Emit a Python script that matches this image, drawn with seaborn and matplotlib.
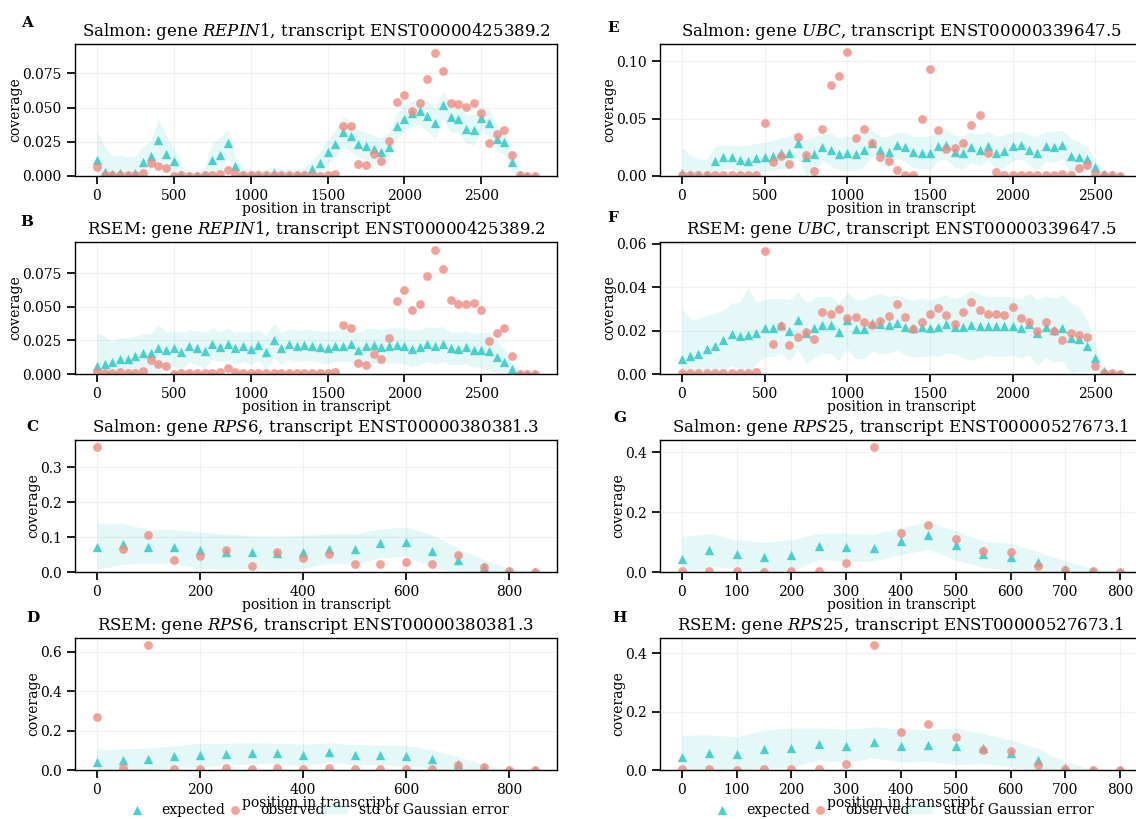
"""
Coverage profiles: expected vs observed read coverage along transcripts
(Salmon vs RSEM) for four genes, with the std band of the Gaussian error.
"""

import matplotlib
matplotlib.use("Agg")
import matplotlib.pyplot as plt
import seaborn as sns
import numpy as np

sns.set_theme(style="ticks", rc={
    "axes.grid": True,
    "grid.color": "#f0f0f0",
    "grid.linewidth": 0.8,
    "axes.edgecolor": "black",
    "axes.linewidth": 1.0,
    "text.color": "black",
    "axes.labelcolor": "black",
    "xtick.color": "black",
    "ytick.color": "black",
})
plt.rcParams["font.family"] = ["DejaVu Serif"]
plt.rcParams["mathtext.fontset"] = "dejavuserif"

EXP_COLOR = "mediumturquoise"
OBS_COLOR = "#f08a80"
BAND_COLOR = "mediumturquoise"

# positions in transcript (bin starts)
POS_REPIN1 = np.arange(0, 2900, 50)
POS_UBC = np.arange(0, 2700, 50)
POS_RPS6 = np.arange(0, 900, 50)
POS_RPS25 = np.arange(0, 850, 50)

# ---- REPIN1 ----
SALMON_REPIN1_EXP = [
    0.0115, 0.003, 0.0015, 0.002, 0.001, 0.0025, 0.010, 0.0147, 0.0264, 0.016,
    0.011, 0.0005, 0.0003, 0.0003, 0.0005, 0.012, 0.015, 0.0244, 0.007, 0.0005,
    0.0005, 0.0004, 0.0005, 0.002, 0.001, 0.001, 0.001, 0.001, 0.005, 0.0098,
    0.0173, 0.0235, 0.032, 0.029, 0.0237, 0.022, 0.0198, 0.0173, 0.0215, 0.0364,
    0.0418, 0.0457, 0.0474, 0.0437, 0.0386, 0.052, 0.0432, 0.0418, 0.0345, 0.0337,
    0.0425, 0.0386, 0.0274, 0.0247, 0.0105, 0.0005, 0.0002, 0.0001,
]
SALMON_REPIN1_OBS = [
    0.0064, 0.001, 0.0005, 0.001, 0.0005, 0.0005, 0.002, 0.0095, 0.0073, 0.0056,
    0.0003, 0.001, 0.0003, 0.0003, 0.0005, 0.0005, 0.0012, 0.0044, 0.0018, 0.0005,
    0.0005, 0.0004, 0.0005, 0.0006, 0.0005, 0.0008, 0.0005, 0.0004, 0.0005, 0.0003,
    0.0008, 0.0013, 0.0362, 0.0362, 0.0088, 0.0078, 0.016, 0.0112, 0.0259, 0.054,
    0.0594, 0.0477, 0.053, 0.0711, 0.0902, 0.077, 0.0533, 0.0523, 0.0501, 0.0533,
    0.0464, 0.0244, 0.0305, 0.0335, 0.0154, 0.0005, 0.0003, 0.0003,
]
SALMON_REPIN1_STD = [
    0.0225, 0.0185, 0.0135, 0.013, 0.013, 0.012, 0.0115, 0.011, 0.015, 0.014,
    0.009, 0.0065, 0.004, 0.004, 0.006, 0.012, 0.013, 0.0096, 0.007, 0.0055,
    0.0045, 0.0045, 0.0045, 0.0045, 0.0045, 0.0045, 0.0045, 0.005, 0.006, 0.008,
    0.0087, 0.0095, 0.011, 0.011, 0.010, 0.010, 0.010, 0.0107, 0.0105, 0.0096,
    0.0092, 0.0093, 0.0096, 0.0113, 0.0114, 0.010, 0.0108, 0.010, 0.0105, 0.011,
    0.0095, 0.0094, 0.0096, 0.0093, 0.0075, 0.0015, 0.0003, 0.0002,
]
RSEM_REPIN1_EXP = [
    0.0062, 0.0074, 0.0087, 0.011, 0.011, 0.0137, 0.0156, 0.0154, 0.019, 0.0176,
    0.019, 0.0166, 0.0209, 0.0196, 0.0174, 0.0223, 0.0204, 0.0221, 0.019, 0.0206,
    0.0189, 0.0216, 0.0161, 0.025, 0.019, 0.0223, 0.0209, 0.0216, 0.0211, 0.0204,
    0.0196, 0.0209, 0.0209, 0.0221, 0.0176, 0.0211, 0.0213, 0.0204, 0.0211, 0.0213,
    0.0209, 0.0189, 0.0201, 0.0221, 0.0209, 0.0223, 0.019, 0.0189, 0.0199, 0.0176,
    0.0179, 0.0171, 0.0129, 0.0092, 0.004, 0.0003, 0.0002, 0.0001,
]
RSEM_REPIN1_OBS = [
    0.0015, 0.001, 0.0005, 0.0012, 0.0005, 0.0005, 0.0022, 0.0102, 0.0075, 0.0062,
    0.0003, 0.001, 0.0005, 0.0005, 0.0005, 0.0005, 0.0012, 0.0042, 0.0018, 0.0005,
    0.0005, 0.0004, 0.0005, 0.0006, 0.0005, 0.0007, 0.0005, 0.0004, 0.0005, 0.0004,
    0.0008, 0.0012, 0.0365, 0.034, 0.008, 0.0065, 0.0149, 0.011, 0.0266, 0.0544,
    0.0621, 0.0474, 0.0519, 0.0725, 0.0919, 0.078, 0.0549, 0.0521, 0.0521, 0.0531,
    0.0479, 0.0246, 0.0303, 0.0343, 0.0132, 0.0002, 0.0002, 0.0002,
]
RSEM_REPIN1_STD = [
    0.024, 0.0206, 0.015, 0.016, 0.016, 0.0143, 0.0144, 0.0146, 0.018, 0.0134,
    0.013, 0.0144, 0.012, 0.0124, 0.0136, 0.0117, 0.0116, 0.0119, 0.012, 0.0114,
    0.012, 0.0114, 0.013, 0.013, 0.012, 0.011, 0.0115, 0.0115, 0.0115, 0.012,
    0.012, 0.0115, 0.012, 0.0125, 0.013, 0.0125, 0.013, 0.0125, 0.013, 0.013,
    0.0135, 0.0135, 0.013, 0.013, 0.0135, 0.013, 0.012, 0.012, 0.012, 0.0124,
    0.013, 0.014, 0.012, 0.009, 0.004, 0.001, 0.0002, 0.0001,
]

# ---- UBC ----
SALMON_UBC_EXP = [
    0.0023, 0.001, 0.001, 0.001, 0.013, 0.0166, 0.0166, 0.0143, 0.0134, 0.0157,
    0.0169, 0.0178, 0.0201, 0.0204, 0.0286, 0.0163, 0.019, 0.0254, 0.023, 0.0192,
    0.0201, 0.019, 0.0224, 0.0286, 0.0224, 0.021, 0.0268, 0.0254, 0.0207, 0.0204,
    0.0201, 0.026, 0.0274, 0.0213, 0.0204, 0.0251, 0.0227, 0.0265, 0.0204, 0.0216,
    0.026, 0.0268, 0.0227, 0.0198, 0.026, 0.0254, 0.0274, 0.0178, 0.0166, 0.0152,
    0.0079, 0.0017, 0.0005, 0.0003,
]
SALMON_UBC_OBS = [
    0.0005, 0.0005, 0.0005, 0.0005, 0.0005, 0.0005, 0.0005, 0.0005, 0.0005, 0.0008,
    0.0466, 0.012, 0.0175, 0.0105, 0.0344, 0.0184, 0.0041, 0.0408, 0.079, 0.0872,
    0.1082, 0.033, 0.0414, 0.0286, 0.0166, 0.0128, 0.0052, 0.0005, 0.0012, 0.0499,
    0.0933, 0.0399, 0.0236, 0.0245, 0.0289, 0.0443, 0.0531, 0.0204, 0.0032, 0.0005,
    0.0005, 0.0005, 0.0005, 0.0005, 0.0005, 0.0008, 0.0015, 0.0005, 0.007, 0.0099,
    0.0015, 0.0005, 0.0005, 0.0003,
]
SALMON_UBC_STD = [
    0.0225, 0.0174, 0.0136, 0.0136, 0.0127, 0.0105, 0.0102, 0.0119, 0.0131, 0.0129,
    0.0125, 0.0132, 0.0134, 0.014, 0.0122, 0.0157, 0.0154, 0.0116, 0.014, 0.0143,
    0.0149, 0.0145, 0.0146, 0.0111, 0.012, 0.0134, 0.0112, 0.0126, 0.0137, 0.014,
    0.0149, 0.013, 0.0126, 0.0137, 0.0146, 0.0129, 0.014, 0.0125, 0.014, 0.0144,
    0.0125, 0.012, 0.0133, 0.0146, 0.013, 0.0134, 0.0126, 0.0152, 0.0134, 0.0105,
    0.0061, 0.0013, 0.0002, 0.0001,
]
RSEM_UBC_EXP = [
    0.0068, 0.0085, 0.0094, 0.0117, 0.0131, 0.0156, 0.0183, 0.0177, 0.018, 0.0191,
    0.021, 0.0214, 0.0224, 0.020, 0.0247, 0.019, 0.0214, 0.0227, 0.0227, 0.0194,
    0.0247, 0.0207, 0.0207, 0.0234, 0.0231, 0.0228, 0.0237, 0.0219, 0.021, 0.0216,
    0.0214, 0.0216, 0.0231, 0.0219, 0.0217, 0.0225, 0.0222, 0.0222, 0.022, 0.022,
    0.022, 0.0211, 0.023, 0.019, 0.0219, 0.0202, 0.0214, 0.0168, 0.0163, 0.0131,
    0.0076, 0.0012, 0.0003, 0.0002,
]
RSEM_UBC_OBS = [
    0.0003, 0.0003, 0.0003, 0.0003, 0.0003, 0.0003, 0.0003, 0.0003, 0.0003, 0.0008,
    0.0569, 0.014, 0.0222, 0.0134, 0.017, 0.0196, 0.0163, 0.0284, 0.0276, 0.0298,
    0.0258, 0.0265, 0.0241, 0.0227, 0.0245, 0.0267, 0.0325, 0.0261, 0.0208, 0.0239,
    0.0279, 0.0304, 0.0271, 0.023, 0.0284, 0.0332, 0.0296, 0.0279, 0.0279, 0.0273,
    0.0308, 0.0258, 0.0239, 0.0199, 0.0241, 0.020, 0.0159, 0.0187, 0.0182, 0.0173,
    0.0037, 0.0005, 0.0003, 0.0002,
]
RSEM_UBC_STD = [
    0.0236, 0.0169, 0.0159, 0.0158, 0.0147, 0.014, 0.0144, 0.0153, 0.022, 0.014,
    0.0132, 0.0134, 0.0126, 0.0142, 0.0132, 0.0141, 0.0139, 0.0131, 0.0131, 0.0133,
    0.0131, 0.0135, 0.0138, 0.0128, 0.0138, 0.013, 0.0127, 0.0129, 0.0132, 0.0136,
    0.0128, 0.0137, 0.0135, 0.0128, 0.0144, 0.016, 0.0147, 0.0136, 0.0138, 0.0139,
    0.0133, 0.0137, 0.0143, 0.0152, 0.0142, 0.0148, 0.0152, 0.0162, 0.0148, 0.0119,
    0.0058, 0.0008, 0.0001, 0.0,
]

# ---- RPS6 ----
SALMON_RPS6_EXP = [0.073, 0.081, 0.073, 0.073, 0.062, 0.058, 0.057, 0.054, 0.058,
                   0.067, 0.066, 0.082, 0.087, 0.060, 0.034, 0.013, 0.004, 0.001]
SALMON_RPS6_OBS = [0.357, 0.066, 0.106, 0.034, 0.046, 0.064, 0.018, 0.057, 0.040,
                   0.051, 0.023, 0.023, 0.029, 0.023, 0.050, 0.013, 0.003, 0.001]
SALMON_RPS6_STD = [0.066, 0.059, 0.048, 0.048, 0.052, 0.051, 0.047, 0.048, 0.048,
                   0.042, 0.044, 0.041, 0.042, 0.047, 0.035, 0.022, 0.006, 0.001]
RSEM_RPS6_EXP = [0.039, 0.049, 0.054, 0.070, 0.075, 0.082, 0.085, 0.085, 0.075,
                 0.090, 0.078, 0.076, 0.073, 0.056, 0.029, 0.012, 0.002, 0.001]
RSEM_RPS6_OBS = [0.268, 0.012, 0.637, 0.005, 0.005, 0.012, 0.003, 0.010, 0.007,
                 0.010, 0.005, 0.004, 0.005, 0.004, 0.024, 0.017, 0.002, 0.002]
RSEM_RPS6_STD = [0.066, 0.058, 0.058, 0.054, 0.061, 0.054, 0.054, 0.051, 0.056,
                 0.048, 0.051, 0.050, 0.051, 0.046, 0.039, 0.017, 0.001, 0.0]

# ---- RPS25 ----
SALMON_RPS25_EXP = [0.043, 0.073, 0.060, 0.049, 0.056, 0.086, 0.083, 0.081, 0.103,
                    0.122, 0.089, 0.060, 0.050, 0.033, 0.010, 0.003, 0.001]
SALMON_RPS25_OBS = [0.003, 0.004, 0.003, 0.001, 0.003, 0.004, 0.029, 0.417, 0.130,
                    0.157, 0.109, 0.069, 0.067, 0.019, 0.006, 0.002, 0.001]
SALMON_RPS25_STD = [0.076, 0.055, 0.048, 0.050, 0.052, 0.044, 0.047, 0.045, 0.045,
                    0.046, 0.049, 0.044, 0.046, 0.035, 0.026, 0.008, 0.001]
RSEM_RPS25_EXP = [0.043, 0.057, 0.054, 0.072, 0.077, 0.089, 0.082, 0.095, 0.083,
                  0.084, 0.081, 0.074, 0.057, 0.036, 0.007, 0.001, 0.0005]
RSEM_RPS25_OBS = [0.002, 0.002, 0.001, 0.002, 0.003, 0.003, 0.022, 0.427, 0.129,
                  0.158, 0.112, 0.068, 0.066, 0.017, 0.005, 0.001, 0.001]
RSEM_RPS25_STD = [0.076, 0.063, 0.060, 0.065, 0.067, 0.055, 0.057, 0.053, 0.056,
                  0.055, 0.063, 0.051, 0.046, 0.037, 0.021, 0.001, 0.0]

# (row, col, letter, title, positions, expected, observed, std, y top)
PANELS = [
    (0, 0, "A", r"Salmon: gene $\it{REPIN}$1, transcript ENST00000425389.2",
     POS_REPIN1, SALMON_REPIN1_EXP, SALMON_REPIN1_OBS, SALMON_REPIN1_STD, 0.0965),
    (1, 0, "B", r"RSEM: gene $\it{REPIN}$1, transcript ENST00000425389.2",
     POS_REPIN1, RSEM_REPIN1_EXP, RSEM_REPIN1_OBS, RSEM_REPIN1_STD, 0.0981),
    (2, 0, "C", r"Salmon: gene $\it{RPS}$6, transcript ENST00000380381.3",
     POS_RPS6, SALMON_RPS6_EXP, SALMON_RPS6_OBS, SALMON_RPS6_STD, 0.378),
    (3, 0, "D", r"RSEM: gene $\it{RPS}$6, transcript ENST00000380381.3",
     POS_RPS6, RSEM_RPS6_EXP, RSEM_RPS6_OBS, RSEM_RPS6_STD, 0.671),
    (0, 1, "E", r"Salmon: gene $\it{UBC}$, transcript ENST00000339647.5",
     POS_UBC, SALMON_UBC_EXP, SALMON_UBC_OBS, SALMON_UBC_STD, 0.1152),
    (1, 1, "F", r"RSEM: gene $\it{UBC}$, transcript ENST00000339647.5",
     POS_UBC, RSEM_UBC_EXP, RSEM_UBC_OBS, RSEM_UBC_STD, 0.0609),
    (2, 1, "G", r"Salmon: gene $\it{RPS}$25, transcript ENST00000527673.1",
     POS_RPS25, SALMON_RPS25_EXP, SALMON_RPS25_OBS, SALMON_RPS25_STD, 0.441),
    (3, 1, "H", r"RSEM: gene $\it{RPS}$25, transcript ENST00000527673.1",
     POS_RPS25, RSEM_RPS25_EXP, RSEM_RPS25_OBS, RSEM_RPS25_STD, 0.452),
]

# panel letter placement in axes coords
LETTER_XY = {
    "A": (-0.10, 1.16), "B": (-0.10, 1.15), "C": (-0.088, 1.10), "D": (-0.087, 1.15),
    "E": (-0.097, 1.12), "F": (-0.098, 1.18), "G": (-0.084, 1.17), "H": (-0.084, 1.15),
}


def plot_panel(ax, letter, title, pos, exp, obs, std, ytop):
    exp = np.asarray(exp)
    std = np.asarray(std)
    ax.fill_between(pos, exp - std, exp + std, color=BAND_COLOR, alpha=0.15,
                    linewidth=0, label="std of Gaussian error")
    sns.scatterplot(x=pos, y=exp, ax=ax, marker="^", color=EXP_COLOR, s=45,
                    linewidth=0, label="expected", legend=False)
    sns.scatterplot(x=pos, y=obs, ax=ax, marker="o", color=OBS_COLOR, s=40,
                    linewidth=0, alpha=0.8, label="observed", legend=False)

    ax.set_ylim(0, ytop)
    ax.set_title(title, fontsize=12)
    ax.set_xlabel("position in transcript", fontsize=10, labelpad=-1)
    ax.set_ylabel("coverage", fontsize=10, labelpad=0)
    ax.tick_params(labelsize=10)
    ax.text(*LETTER_XY[letter], letter, transform=ax.transAxes, fontsize=11,
            fontweight="bold", ha="center", va="center")


def main():
    fig, axes = plt.subplots(4, 2, figsize=(11.36, 8.19), dpi=100)
    fig.subplots_adjust(left=0.066, right=1.0053, bottom=0.0598, top=0.9463,
                        hspace=0.5, wspace=0.2137)

    for row, col, letter, title, pos, exp, obs, std, ytop in PANELS:
        plot_panel(axes[row, col], letter, title, pos, exp, obs, std, ytop)

    # legends under the bottom panel of each column
    order = ["expected", "observed", "std of Gaussian error"]
    for ax in axes[3]:
        handles, labels = ax.get_legend_handles_labels()
        hl = {l: h for h, l in zip(handles, labels)}
        ax.legend([hl[l] for l in order], order, loc="center",
                  bbox_to_anchor=(0.5, -0.30), ncol=3, frameon=False,
                  fontsize=10, columnspacing=-0.3, handletextpad=0.8)

    fig.savefig("out.png", dpi=100)
    plt.close(fig)


if __name__ == "__main__":
    main()
